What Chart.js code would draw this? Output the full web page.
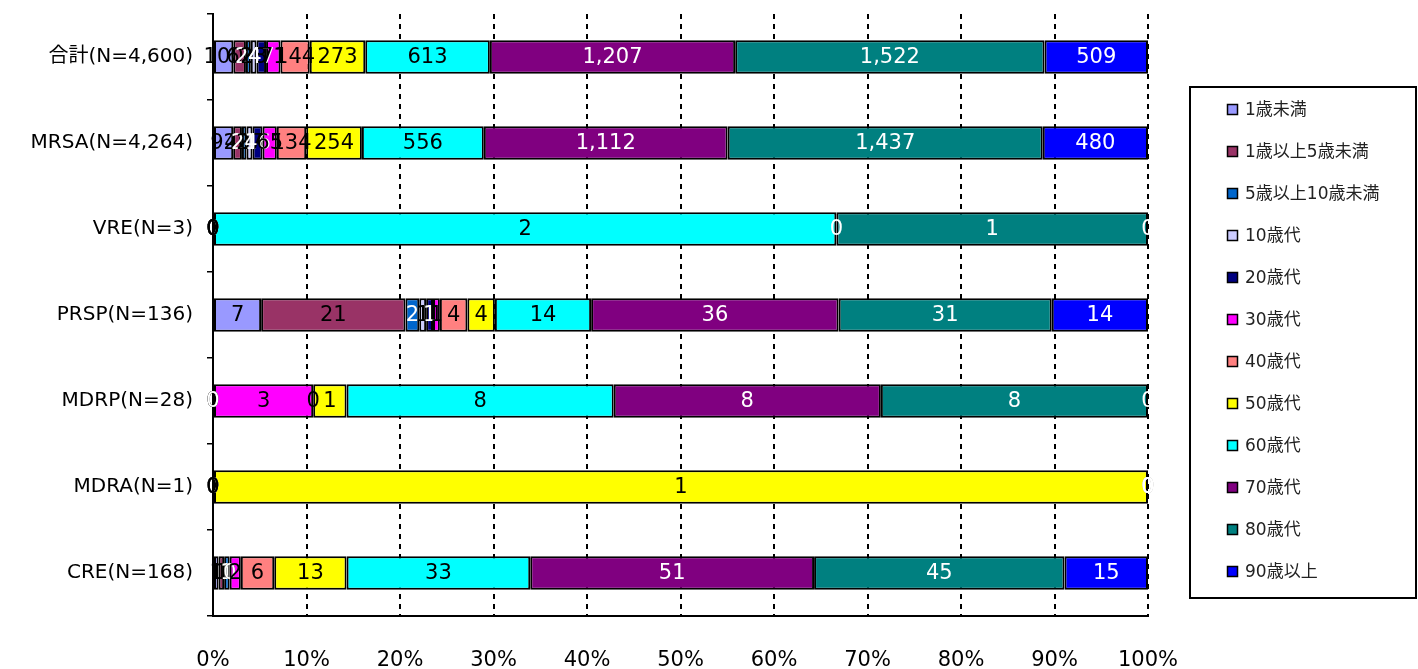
<!DOCTYPE html>
<html>
<head>
<meta charset="utf-8">
<script src="https://cdn.jsdelivr.net/npm/chart.js@4"></script>
<style>
  body { margin: 0; background: #fff; }
  #wrap { width: 1418px; height: 669px; position: relative; }
</style>
</head>
<body>
<div id="wrap"><canvas id="grafico"></canvas></div>
<script>
// categories (rows)
const categorias = ["合計(N=4,600)", "MRSA(N=4,264)", "VRE(N=3)", "PRSP(N=136)", "MDRP(N=28)", "MDRA(N=1)", "CRE(N=168)"];

// age groups (series)
const faixas = ["1歳未満", "1歳以上5歳未満", "5歳以上10歳未満", "10歳代", "20歳代", "30歳代", "40歳代", "50歳代", "60歳代", "70歳代", "80歳代", "90歳以上"];

// counts per age group, in the order of categorias
const menos1 = [100, 92, 0, 7, 0, 0, 1];
const de1a5 = [62, 40, 0, 21, 0, 0, 1];
const de5a10 = [24, 21, 0, 2, 0, 0, 1];
const dez = [28, 27, 0, 1, 0, 0, 0];
const vinte = [47, 46, 0, 1, 0, 0, 0];
const trinta = [71, 65, 0, 1, 3, 0, 2];
const quarenta = [144, 134, 0, 4, 0, 0, 6];
const cinquenta = [273, 254, 0, 4, 1, 1, 13];
const sessenta = [613, 556, 2, 14, 8, 0, 33];
const setenta = [1207, 1112, 0, 36, 8, 0, 51];
const oitenta = [1522, 1437, 1, 31, 8, 0, 45];
const noventa = [509, 480, 0, 14, 0, 0, 15];

const xTicks = [0, 10, 20, 30, 40, 50, 60, 70, 80, 90, 100];

const series = [menos1, de1a5, de5a10, dez, vinte, trinta, quarenta, cinquenta, sessenta, setenta, oitenta, noventa];
const cores = ["#9999FF", "#993366", "#0066CC", "#CCCCFF", "#000080", "#FF00FF", "#FF8080", "#FFFF00", "#00FFFF", "#800080", "#008080", "#0000FF"];
const corTexto = ["#000", "#000", "#fff", "#000", "#fff", "#000", "#000", "#000", "#000", "#fff", "#fff", "#fff"];

const totais = categorias.map((c, i) => series.reduce((acc, s) => acc + s[i], 0));

const fonte = "'DejaVu Sans', 'Noto Sans CJK JP', sans-serif";
Chart.defaults.font.family = fonte;
Chart.defaults.color = "#000";

const rotulos = {
  id: "rotulos",
  afterDatasetsDraw(chart) {
    const ctx = chart.ctx;
    ctx.save();
    ctx.font = "21px " + fonte;
    ctx.textAlign = "center";
    ctx.textBaseline = "middle";
    chart.data.datasets.forEach((ds, d) => {
      const meta = chart.getDatasetMeta(d);
      meta.data.forEach((bar, i) => {
        const x = (bar.x + bar.base) / 2;
        ctx.fillStyle = corTexto[d];
        ctx.fillText(series[d][i].toLocaleString("en-US"), x, bar.y + 1);
      });
    });
    ctx.restore();
  }
};

const legenda = {
  id: "legenda",
  afterDraw(chart) {
    const ctx = chart.ctx;
    ctx.save();
    ctx.strokeStyle = "#000";
    ctx.lineWidth = 2;
    ctx.strokeRect(1190, 87, 226, 511);
    ctx.font = "17px " + fonte;
    ctx.textBaseline = "middle";
    ctx.textAlign = "left";
    faixas.forEach((f, i) => {
      const y = 110 + i * 42;
      ctx.fillStyle = cores[i];
      ctx.fillRect(1227.5, y - 5.5, 10, 10);
      ctx.lineWidth = 1.5;
      ctx.strokeStyle = "#000";
      ctx.strokeRect(1227.5, y - 5.5, 10, 10);
      ctx.fillStyle = "#222";
      ctx.fillText(f, 1245, y + 1);
    });
    ctx.restore();
  }
};

const ctx = document.getElementById("grafico").getContext("2d");

const grafico = new Chart(ctx, {
  type: "bar",
  data: {
    labels: categorias,
    datasets: faixas.map((f, d) => ({
      label: f,
      data: series[d].map((v, i) => v / totais[i] * 100),
      backgroundColor: cores[d],
      borderColor: "#000",
      borderWidth: 2,
      borderSkipped: false,
      categoryPercentage: 1,
      barPercentage: 0.39
    }))
  },
  options: {
    indexAxis: "y",
    responsive: true,
    maintainAspectRatio: false,
    animation: false,
    devicePixelRatio: 1,
    layout: { padding: { top: 14, right: 270, left: 0, bottom: 0 } },
    plugins: {
      legend: { display: false },
      tooltip: { enabled: false }
    },
    scales: {
      x: {
        stacked: true,
        min: 0,
        max: 100,
        afterFit: (s) => { s.height = 53; },
        afterBuildTicks: (s) => { s.ticks = xTicks.map(v => ({ value: v })); },
        ticks: {
          padding: 32,
          font: { size: 21 },
          color: "#000",
          callback: (v) => v + "%"
        },
        grid: { color: "#000", lineWidth: 2, drawTicks: false },
        border: { display: true, color: "#000", width: 2, dash: [5, 5] }
      },
      y: {
        stacked: true,
        afterFit: (s) => { s.width = 213; s.paddingTop = 0; s.paddingBottom = 0; },
        ticks: { padding: 14, font: { size: 20 }, color: "#000" },
        grid: { drawOnChartArea: false, drawTicks: true, tickLength: 6, color: "#000", lineWidth: 1.5, offset: true },
        border: { display: true, color: "#000", width: 2 }
      }
    }
  },
  plugins: [rotulos, legenda]
});
</script>
</body>
</html>
